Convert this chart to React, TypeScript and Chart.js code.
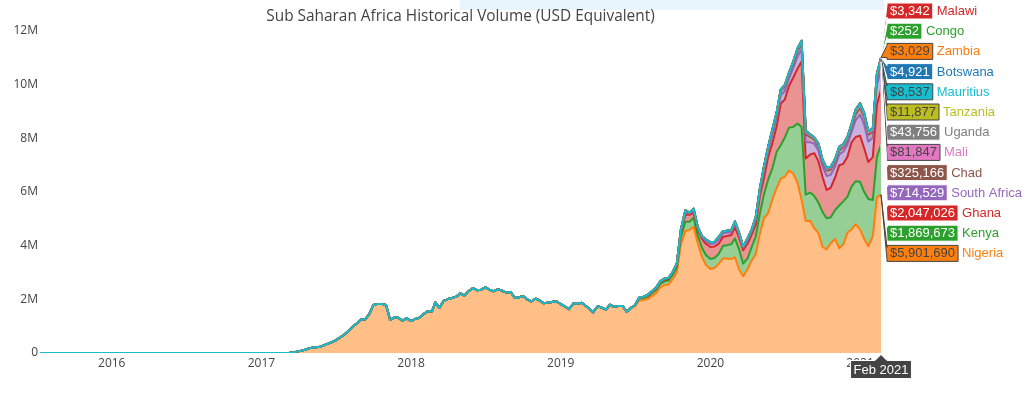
import { useEffect, useRef } from 'react';
import { Chart, registerables } from 'chart.js';

Chart.register(...registerables);

const TITLE = 'Sub Saharan Africa Historical Volume (USD Equivalent)';

// Observation dates (roughly every ten days once the market was active)
const dates = [
  '2015-07-10',
  '2017-03-01', '2017-03-11', '2017-03-21', '2017-04-01', '2017-04-11', '2017-04-21',
  '2017-05-01', '2017-05-11', '2017-05-21', '2017-06-01', '2017-06-11', '2017-06-21',
  '2017-07-01', '2017-07-11', '2017-07-21', '2017-08-01', '2017-08-11', '2017-08-21',
  '2017-09-01', '2017-09-11', '2017-09-21', '2017-10-01', '2017-10-11', '2017-10-21',
  '2017-11-01', '2017-11-11', '2017-11-21', '2017-12-01', '2017-12-11', '2017-12-21',
  '2018-01-01', '2018-01-11', '2018-01-21', '2018-02-01', '2018-02-11', '2018-02-21',
  '2018-03-01', '2018-03-11', '2018-03-21', '2018-04-01', '2018-04-11', '2018-04-21',
  '2018-05-01', '2018-05-11', '2018-05-21', '2018-06-01', '2018-06-11', '2018-06-21',
  '2018-07-01', '2018-07-11', '2018-07-21', '2018-08-01', '2018-08-11', '2018-08-21',
  '2018-09-01', '2018-09-11', '2018-09-21', '2018-10-01', '2018-10-11', '2018-10-21',
  '2018-11-01', '2018-11-11', '2018-11-21', '2018-12-01', '2018-12-11', '2018-12-21',
  '2019-01-01', '2019-01-11', '2019-01-21', '2019-02-01', '2019-02-11', '2019-02-21',
  '2019-03-01', '2019-03-11', '2019-03-21', '2019-04-01', '2019-04-11', '2019-04-21',
  '2019-05-01', '2019-05-11', '2019-05-21', '2019-06-01', '2019-06-11', '2019-06-21',
  '2019-07-01', '2019-07-11', '2019-07-21', '2019-08-01', '2019-08-11', '2019-08-21',
  '2019-09-01', '2019-09-11', '2019-09-21', '2019-10-01', '2019-10-11', '2019-10-21',
  '2019-11-01', '2019-11-11', '2019-11-21', '2019-12-01', '2019-12-11', '2019-12-21',
  '2020-01-01', '2020-01-11', '2020-01-21', '2020-02-01', '2020-02-11', '2020-02-21',
  '2020-03-01', '2020-03-11', '2020-03-21', '2020-04-01', '2020-04-11', '2020-04-21',
  '2020-05-01', '2020-05-11', '2020-05-21', '2020-06-01', '2020-06-11', '2020-06-21',
  '2020-07-01', '2020-07-11', '2020-07-21', '2020-08-01', '2020-08-11', '2020-08-21',
  '2020-09-01', '2020-09-11', '2020-09-21', '2020-10-01', '2020-10-11', '2020-10-21',
  '2020-11-01', '2020-11-11', '2020-11-21', '2020-12-01', '2020-12-11', '2020-12-21',
  '2021-01-01', '2021-01-11', '2021-01-21', '2021-02-01', '2021-02-11', '2021-02-21',
];

// Volumes in USD millions (stack order bottom -> top)
const nigeria = [
  0,
  0, 0.01, 0.03, 0.06, 0.09, 0.14, 0.19, 0.21, 0.22, 0.28, 0.34, 0.40,
  0.47, 0.57, 0.67, 0.82, 0.97, 1.10, 1.25, 1.25, 1.45, 1.79, 1.83, 1.83,
  1.79, 1.23, 1.33, 1.31, 1.20, 1.30,
  1.19, 1.27, 1.31, 1.46, 1.56, 1.55, 1.89, 1.68, 1.94, 2.01, 2.05, 2.10,
  2.22, 2.14, 2.30, 2.42, 2.34, 2.36, 2.45, 2.36, 2.30, 2.38, 2.32, 2.25,
  2.27, 2.05, 2.08, 2.12, 2.00, 1.92, 2.03, 1.95, 1.85, 1.88, 1.90, 1.93,
  1.82, 1.74, 1.63, 1.85, 1.83, 1.87, 1.78, 1.66, 1.52, 1.74, 1.69, 1.62,
  1.80, 1.72, 1.75, 1.75, 1.53, 1.68, 1.74, 1.96, 1.97, 2.01, 2.12, 2.22,
  2.45, 2.53, 2.55, 2.75, 3.00, 4.05, 4.55, 4.59, 4.70, 4.10, 3.60, 3.28,
  3.13, 3.17, 3.32, 3.53, 3.52, 3.50, 3.57, 3.12, 2.86, 3.13, 3.45, 3.70,
  4.45, 5.03, 5.20, 5.75, 6.15, 6.50, 6.57, 6.80, 6.70, 6.35, 5.70, 4.92,
  4.93, 4.65, 4.47, 3.96, 3.86, 4.08, 4.25, 3.90, 4.05, 4.48, 4.60, 4.80,
  4.60, 4.25, 3.98, 4.35, 5.80, 5.90169,
];

// From 2019-07-01
const kenya = [
  0.03, 0.06, 0.08, 0.09, 0.11, 0.12, 0.13, 0.14, 0.15, 0.16, 0.19, 0.27,
  0.34, 0.30, 0.34, 0.28, 0.33, 0.37,
  0.37, 0.37, 0.37, 0.47, 0.50, 0.55, 0.70, 0.74, 0.47, 0.40, 0.50, 0.65,
  0.75, 0.89, 1.25, 1.15, 1.35, 1.24, 1.46, 1.60, 1.72, 2.20, 2.72, 0.98,
  1.05, 1.20, 1.14, 1.30, 1.16, 0.97, 1.08, 1.60, 1.60, 1.34, 1.60, 1.60,
  1.78, 1.75, 1.76, 1.35, 1.50, 1.869673,
];
const ghana = [
  0.01, 0.02, 0.03, 0.03, 0.04, 0.05, 0.06, 0.06, 0.06, 0.07, 0.09, 0.18,
  0.27, 0.26, 0.18, 0.22, 0.33, 0.42,
  0.45, 0.43, 0.38, 0.33, 0.34, 0.35, 0.41, 0.45, 0.50, 0.55, 0.46, 0.45,
  0.65, 0.60, 0.85, 0.95, 0.95, 1.56, 1.42, 1.55, 1.83, 2.05, 2.44, 1.35,
  1.42, 1.60, 1.54, 1.31, 1.06, 1.10, 1.22, 1.50, 1.40, 1.49, 1.65, 1.65,
  1.72, 1.63, 1.38, 1.60, 1.95, 2.047026,
];
const southAfrica = [
  0, 0.01, 0.01, 0.02, 0.02, 0.02, 0.03, 0.03, 0.03, 0.03, 0.04, 0.06,
  0.10, 0.05, 0.09, 0.06, 0.06, 0.10,
  0.11, 0.11, 0.15, 0.13, 0.12, 0.11, 0.14, 0.11, 0.09, 0.13, 0.12, 0.18,
  0.18, 0.28, 0.24, 0.32, 0.30, 0.30, 0.31, 0.28, 0.34, 0.45, 0.45, 0.60,
  0.45, 0.35, 0.39, 0.39, 0.52, 0.48, 0.40, 0.40, 0.45, 0.45, 0.38, 0.62,
  0.78, 0.88, 0.75, 0.72, 0.75, 0.714529,
];
const chad = [
  0, 0.01, 0.01, 0.01, 0.01, 0.01, 0.01, 0.01, 0.01, 0.01, 0.01, 0.04,
  0.06, 0.03, 0.07, 0.04, 0.04, 0.06,
  0.07, 0.07, 0.10, 0.08, 0.08, 0.07, 0.08, 0.06, 0.05, 0.07, 0.07, 0.10,
  0.10, 0.15, 0.13, 0.16, 0.17, 0.17, 0.17, 0.15, 0.16, 0.20, 0.22, 0.30,
  0.20, 0.15, 0.17, 0.17, 0.20, 0.20, 0.17, 0.15, 0.17, 0.15, 0.14, 0.22,
  0.26, 0.28, 0.27, 0.22, 0.25, 0.325166,
];
// From 2020-06-01
const mali = [
  0.02, 0.03, 0.03, 0.04, 0.03, 0.05, 0.06, 0.07, 0.08, 0.06, 0.05, 0.06,
  0.05, 0.06, 0.07, 0.06, 0.07, 0.06, 0.07, 0.08, 0.09, 0.09, 0.08, 0.07,
  0.07, 0.08, 0.081847,
];
const uganda = [
  0.01, 0.02, 0.02, 0.02, 0.03, 0.03, 0.04, 0.04, 0.05, 0.04, 0.03, 0.04,
  0.03, 0.04, 0.04, 0.04, 0.05, 0.04, 0.05, 0.05, 0.06, 0.05, 0.05, 0.04,
  0.04, 0.05, 0.043756,
];
// From 2020-11-01
const tanzania = [0.006, 0.008, 0.007, 0.009, 0.010, 0.012, 0.011, 0.010, 0.009, 0.010, 0.012, 0.011877];
const mauritius = [0.004, 0.005, 0.006, 0.006, 0.007, 0.008, 0.009, 0.008, 0.007, 0.008, 0.009, 0.008537];
const botswana = [0.002, 0.003, 0.003, 0.004, 0.004, 0.005, 0.005, 0.004, 0.004, 0.005, 0.005, 0.004921];
const zambia = [0.001, 0.002, 0.002, 0.002, 0.003, 0.003, 0.003, 0.003, 0.002, 0.003, 0.003, 0.003029];
const congo = [0.0001, 0.0002, 0.0002, 0.0002, 0.0003, 0.0003, 0.0002, 0.0003, 0.0002, 0.0003, 0.0002, 0.000252];
const malawi = [0.001, 0.002, 0.002, 0.003, 0.003, 0.004, 0.003, 0.003, 0.003, 0.004, 0.003, 0.003342];

const countries = [
  'Nigeria', 'Kenya', 'Ghana', 'South Africa', 'Chad', 'Mali', 'Uganda',
  'Tanzania', 'Mauritius', 'Botswana', 'Zambia', 'Congo', 'Malawi',
];
const colors = [
  '#ff7f0e', '#2ca02c', '#d62728', '#9467bd', '#8c564b', '#e377c2', '#7f7f7f',
  '#bcbd22', '#17becf', '#1f77b4', '#ff7f0e', '#2ca02c', '#d62728',
];

const xTickValues = [2016, 2017, 2018, 2019, 2020, 2021];
const xTickLabels = ['2016', '2017', '2018', '2019', '2020', '2021'];
const yTickValues = [0, 2, 4, 6, 8, 10, 12];
const yTickLabels = ['0', '2M', '4M', '6M', '8M', '10M', '12M'];
const Y_MAX = 12.15;
const MONTHS = ['Jan', 'Feb', 'Mar', 'Apr', 'May', 'Jun', 'Jul', 'Aug', 'Sep', 'Oct', 'Nov', 'Dec'];

// ---- derived tables ----
const toYear = (s: string) => {
  const [y, m, d] = s.split('-').map(Number);
  const t0 = Date.UTC(y, 0, 1);
  const t1 = Date.UTC(y + 1, 0, 1);
  return y + (Date.UTC(y, m - 1, d) - t0) / (t1 - t0);
};
const xs = dates.map(toYear);
const lead = (a: number[]) => new Array(dates.length - a.length).fill(0).concat(a);
const seriesValues = [
  nigeria, lead(kenya), lead(ghana), lead(southAfrica), lead(chad), lead(mali), lead(uganda),
  lead(tanzania), lead(mauritius), lead(botswana), lead(zambia), lead(congo), lead(malawi),
];
const cum: number[][] = [];
seriesValues.forEach((vals, s) => {
  cum.push(vals.map((v, i) => v + (s ? cum[s - 1][i] : 0)));
});

const rgba = (hex: string, a: number) => {
  const n = parseInt(hex.slice(1), 16);
  return `rgba(${(n >> 16) & 255},${(n >> 8) & 255},${n & 255},${a})`;
};
const isLight = (hex: string) => {
  const n = parseInt(hex.slice(1), 16);
  const r = (n >> 16) & 255, g = (n >> 8) & 255, b = n & 255;
  return (r * 299 + g * 587 + b * 114) / 1000 >= 128;
};

const HOVER_FONT = '13px "Liberation Sans", Arial, sans-serif';

const overlayPlugin = {
  id: 'overlay',
  beforeDraw(chart: any) {
    const ctx = chart.ctx;
    ctx.save();
    ctx.fillStyle = '#e9f5fc';
    ctx.fillRect(460, 0, 424, 10);
    ctx.restore();
  },
  afterDraw(chart: any) {
    const { ctx, chartArea, scales } = chart;
    ctx.save();
    // title
    ctx.font = '15.4px "Open Sans", sans-serif';
    ctx.fillStyle = '#444';
    ctx.textAlign = 'center';
    ctx.textBaseline = 'alphabetic';
    ctx.fillText(TITLE, (chartArea.left + chartArea.right) / 2, 21);

    // hover labels for last point
    const last = dates.length - 1;
    const px = scales.x.getPixelForValue(xs[last]);
    const items = countries.map((name, s) => ({
      name,
      color: colors[s],
      value: seriesValues[s][last],
      py: scales.y.getPixelForValue(cum[s][last]),
      cy: 0,
    }));
    items.sort((a, b) => a.py - b.py);
    const SP = 20.2, H = 16, ARROW = 6, PAD = 3;
    let groups = items.map((it) => ({ members: [it], center: it.py }));
    let merged = true;
    while (merged) {
      merged = false;
      for (let g = 0; g < groups.length - 1; g++) {
        const a = groups[g], b = groups[g + 1];
        const aBottom = a.center + ((a.members.length - 1) * SP) / 2;
        const bTop = b.center - ((b.members.length - 1) * SP) / 2;
        if (bTop - aBottom < SP) {
          const members = a.members.concat(b.members);
          const center = members.reduce((s, m) => s + m.py, 0) / members.length;
          groups.splice(g, 2, { members, center });
          merged = true;
          break;
        }
      }
    }
    groups.forEach((g) => {
      g.members.forEach((m, k) => {
        m.cy = g.center + (k - (g.members.length - 1) / 2) * SP;
      });
    });
    const minY = H / 2 + 3;
    const shift = Math.max(0, minY - items[0].cy);
    items.forEach((m) => (m.cy += shift));

    ctx.font = HOVER_FONT;
    ctx.textAlign = 'left';
    ctx.textBaseline = 'middle';
    ctx.lineWidth = 1;
    items.forEach((it) => {
      const text = '$' + Math.round(it.value * 1e6).toLocaleString('en-US');
      const w = ctx.measureText(text).width + 2 * PAD;
      const contrast = isLight(it.color) ? '#444' : '#fff';
      const cy = it.cy;
      ctx.beginPath();
      ctx.moveTo(px, it.py);
      ctx.lineTo(px + ARROW, cy + ARROW);
      ctx.lineTo(px + ARROW, cy + H / 2);
      ctx.lineTo(px + ARROW + w, cy + H / 2);
      ctx.lineTo(px + ARROW + w, cy - H / 2);
      ctx.lineTo(px + ARROW, cy - H / 2);
      ctx.lineTo(px + ARROW, cy - ARROW);
      ctx.closePath();
      ctx.fillStyle = it.color;
      ctx.fill();
      ctx.strokeStyle = contrast;
      ctx.stroke();
      ctx.fillStyle = contrast;
      ctx.fillText(text, px + ARROW + PAD, cy + 0.5);
      ctx.fillStyle = it.color;
      ctx.fillText(it.name, px + ARROW + w + 4, cy + 0.5);
    });

    // x hover label
    const [yy, mm] = dates[last].split('-').map(Number);
    const xl = MONTHS[mm - 1] + ' ' + yy;
    const xw = ctx.measureText(xl).width + 2 * PAD;
    const xh = 18;
    const ty = chartArea.bottom + 1.5;
    ctx.beginPath();
    ctx.moveTo(px, ty);
    ctx.lineTo(px + ARROW, ty + ARROW);
    ctx.lineTo(px + xw / 2, ty + ARROW);
    ctx.lineTo(px + xw / 2, ty + ARROW + xh);
    ctx.lineTo(px - xw / 2, ty + ARROW + xh);
    ctx.lineTo(px - xw / 2, ty + ARROW);
    ctx.lineTo(px - ARROW, ty + ARROW);
    ctx.closePath();
    ctx.fillStyle = '#444';
    ctx.fill();
    ctx.strokeStyle = '#fff';
    ctx.stroke();
    ctx.fillStyle = '#fff';
    ctx.textAlign = 'center';
    ctx.fillText(xl, px, ty + ARROW + xh / 2 + 0.5);
    ctx.restore();
  },
};

export default function App() {
  const ref = useRef<HTMLCanvasElement>(null);
  useEffect(() => {
    Chart.defaults.font.family = '"Open Sans", sans-serif';
    Chart.defaults.font.size = 12;
    Chart.defaults.color = '#444';
    const datasets = countries.map((name, s) => ({
      label: name,
      data: xs.map((x, i) => ({ x, y: cum[s][i] })),
      borderColor: colors[s],
      backgroundColor: rgba(colors[s], 0.5),
      borderWidth: 2,
      borderJoinStyle: 'round' as const,
      fill: s === 0 ? 'origin' : '-1',
      pointRadius: 0,
      pointHoverRadius: 0,
      tension: 0,
      order: name === 'Mauritius' ? 0 : countries.length - s,
    }));
    const chart = new Chart(ref.current!, {
      type: 'line',
      data: { datasets },
      options: {
        animation: false,
        responsive: false,
        devicePixelRatio: 1,
        events: [],
        layout: { padding: { left: 10, right: 143, top: 27, bottom: 17 } },
        plugins: {
          legend: { display: false },
          title: { display: false },
          tooltip: { enabled: false },
          filler: { propagate: false, drawTime: 'beforeDatasetsDraw' },
        } as any,
        scales: {
          x: {
            type: 'linear',
            min: xs[0],
            max: xs[xs.length - 1],
            offset: false,
            grid: { display: false, drawTicks: false },
            border: { display: false },
            ticks: {
              autoSkip: false,
              maxRotation: 0,
              padding: 3,
              includeBounds: false,
              callback: (_v: any, i: number) => xTickLabels[i],
            },
            afterBuildTicks: (s: any) => {
              s.ticks = xTickValues.map((value) => ({ value }));
            },
            afterFit: (s: any) => {
              s.height = 24;
            },
          },
          y: {
            type: 'linear',
            min: 0,
            max: Y_MAX,
            grid: { display: false, drawTicks: false },
            border: { display: false },
            ticks: {
              padding: 2,
              callback: (_v: any, i: number) => yTickLabels[i],
            },
            afterBuildTicks: (s: any) => {
              s.ticks = yTickValues.map((value) => ({ value }));
            },
            afterFit: (s: any) => {
              s.width = 30;
            },
          },
        },
      },
      plugins: [overlayPlugin],
    });
    return () => chart.destroy();
  }, []);
  return (
    <div style={{ position: 'fixed', left: 0, top: 0, width: 1024, height: 394, background: '#fff' }}>
      <canvas ref={ref} width={1024} height={394} style={{ display: 'block', width: 1024, height: 394 }} />
    </div>
  );
}
